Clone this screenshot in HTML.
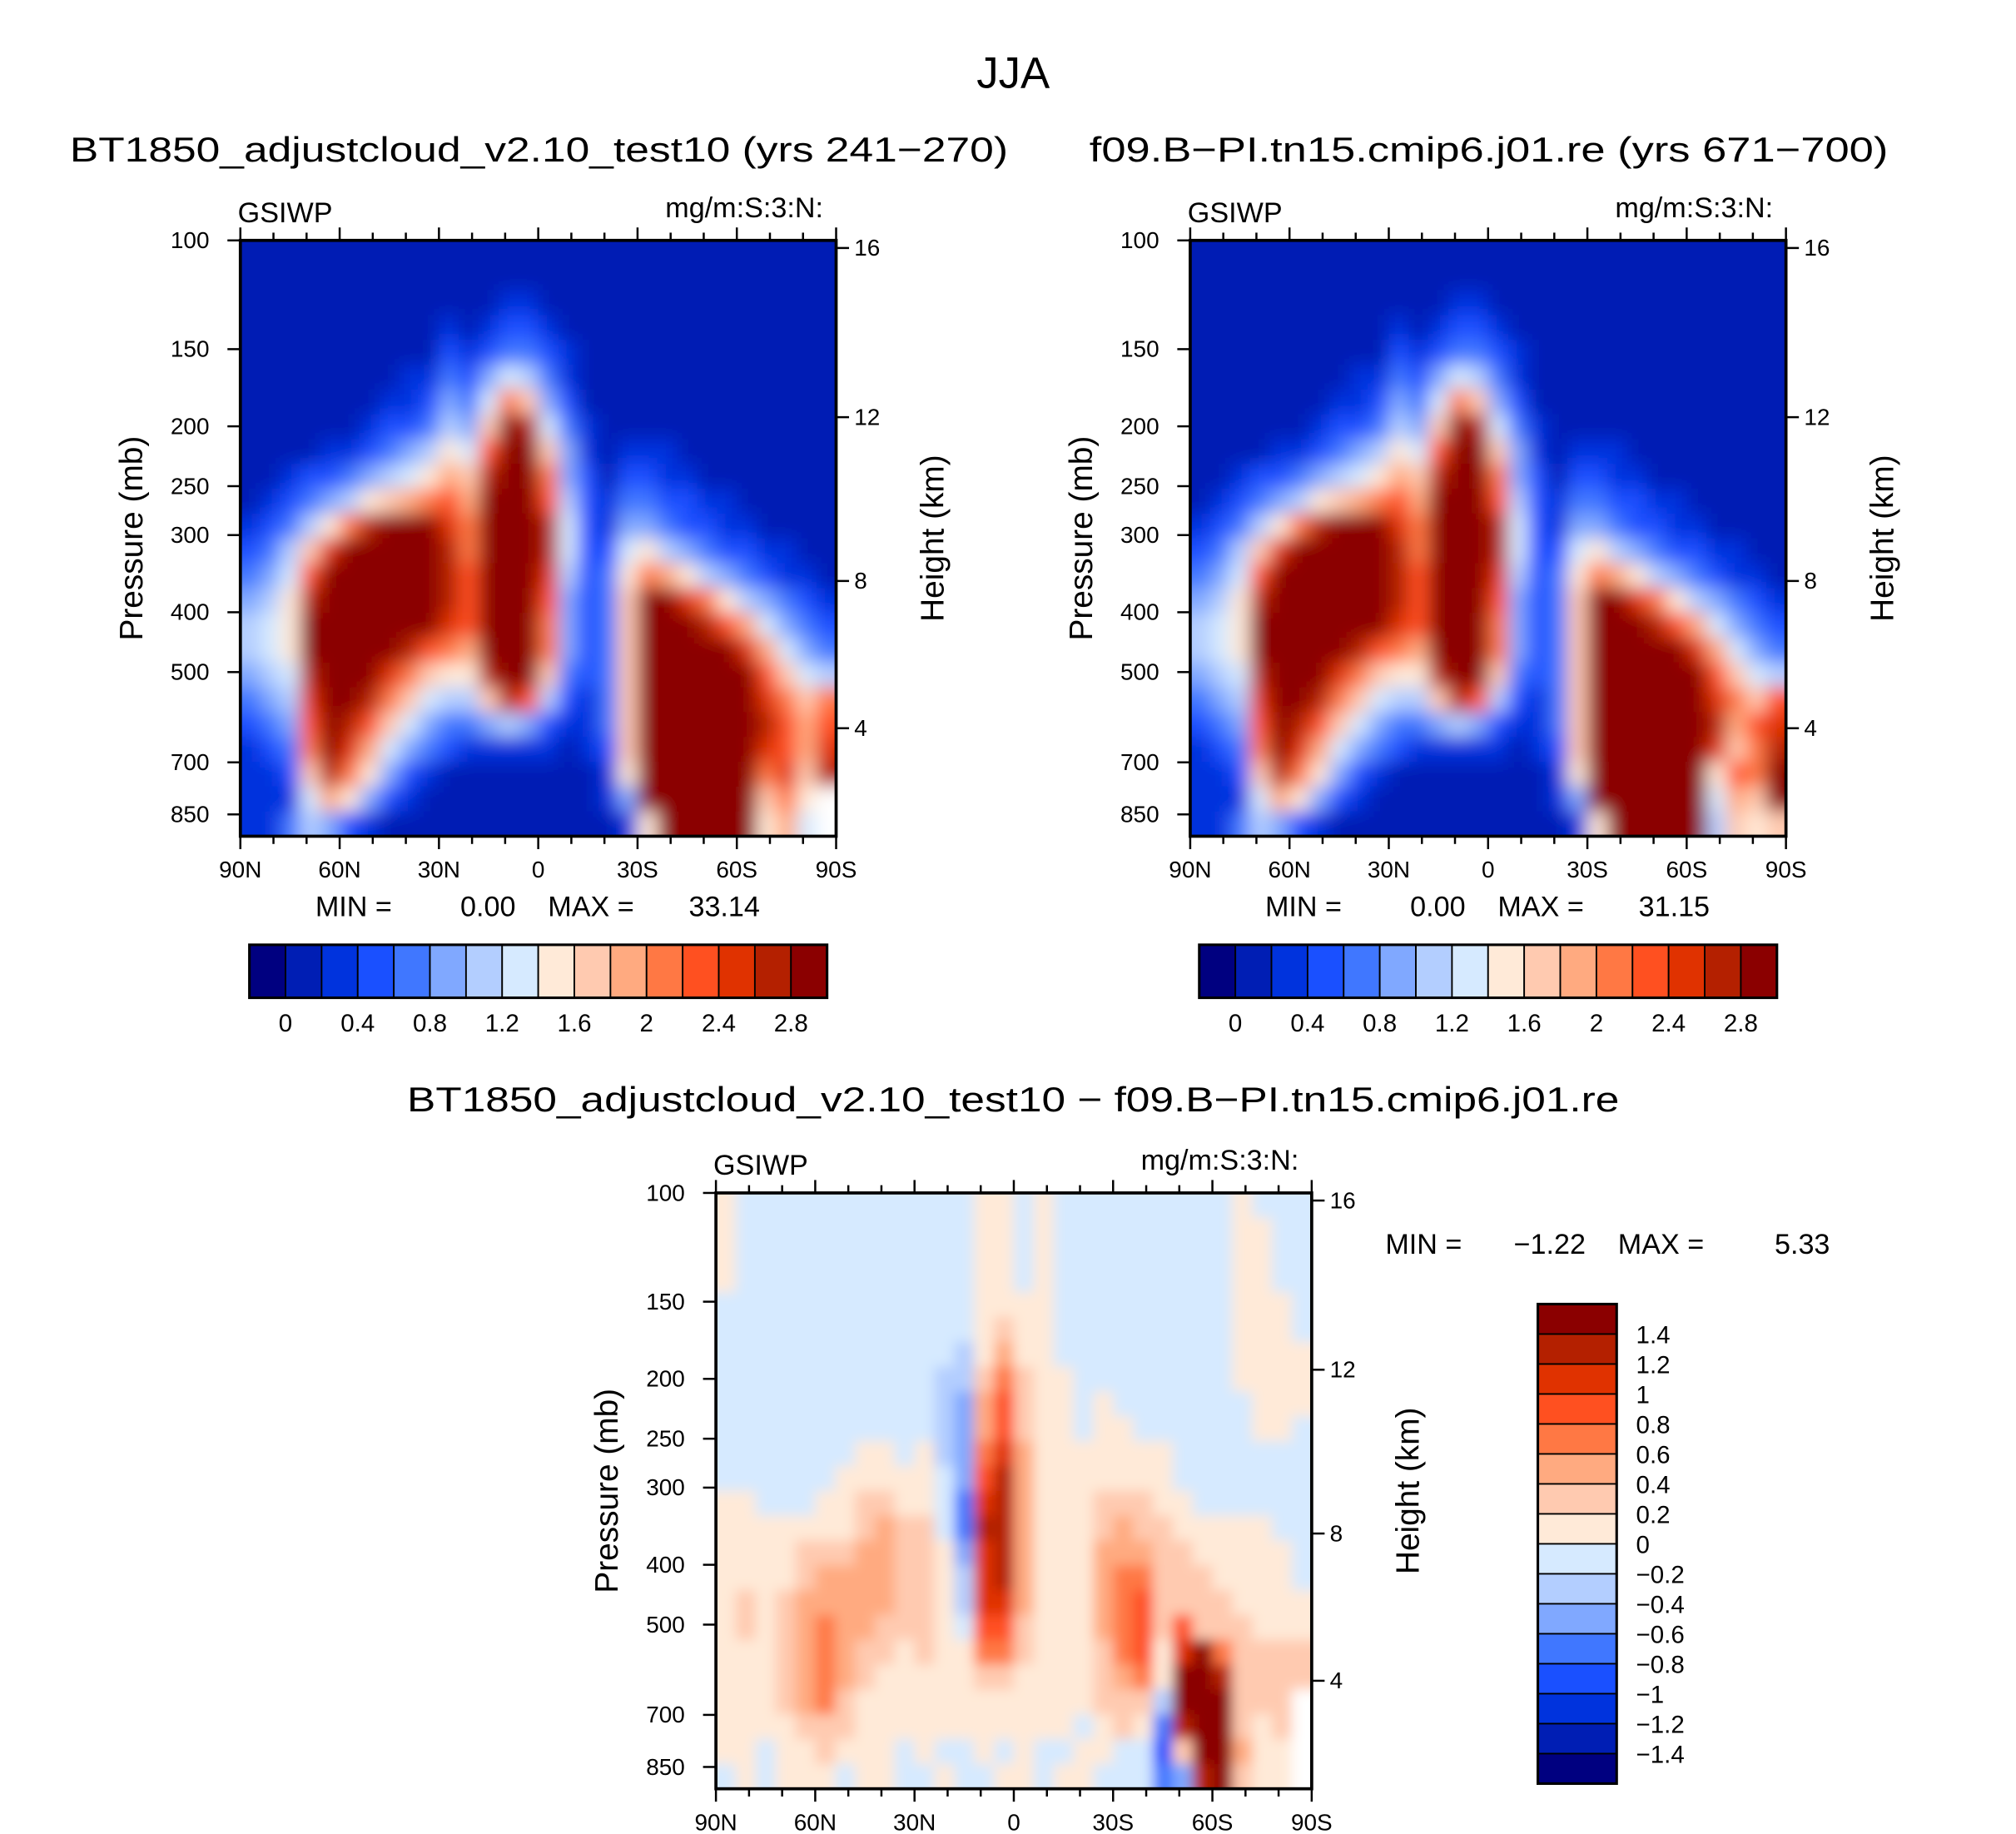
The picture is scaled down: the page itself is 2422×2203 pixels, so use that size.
<!DOCTYPE html>
<html><head><meta charset="utf-8">
<style>
html,body{margin:0;padding:0;background:#fff;}
svg{display:block;}
text{font-family:"Liberation Sans",sans-serif;fill:#000;}
</style></head>
<body>
<svg id="fig" width="2422" height="2203" viewBox="0 0 1560 1419" preserveAspectRatio="none" xmlns="http://www.w3.org/2000/svg">
<defs>
<filter id="blurA" x="0" y="0" width="1" height="1"><feGaussianBlur stdDeviation="7"/></filter>
<filter id="blurC" x="0" y="0" width="1" height="1"><feGaussianBlur stdDeviation="5"/></filter>
<clipPath id="clipA"><rect x="186" y="186" width="461" height="461"/></clipPath>
<clipPath id="clipB"><rect x="921" y="186" width="461" height="461"/></clipPath>
<clipPath id="clipC"><rect x="554" y="923" width="461" height="461"/></clipPath>
</defs>
<text x="784" y="68" font-size="34" text-anchor="middle">JJA</text>
<text x="54" y="125" font-size="27" textLength="726" lengthAdjust="spacingAndGlyphs">BT1850_adjustcloud_v2.10_test10 (yrs 241−270)</text>
<text x="843" y="125" font-size="27" textLength="618" lengthAdjust="spacingAndGlyphs">f09.B−PI.tn15.cmip6.j01.re (yrs 671−700)</text>
<text x="315" y="860" font-size="27" textLength="938" lengthAdjust="spacingAndGlyphs">BT1850_adjustcloud_v2.10_test10 − f09.B−PI.tn15.cmip6.j01.re</text>
</svg>
<script>
const fieldA = [
"111111111111111111111111111111",
"111111111111111111111111111111",
"111111111111122111111111111111",
"111111111121233211111111111111",
"111111111132344321111111111111",
"111111112243576421111111111111",
"1111111223547b9531111111111111",
"1111112334659fe742111111111111",
"111122345687cff952122211111111",
"1123345678a9effb53133221111111",
"12345689abcafffc63244332211111",
"23468befffdbfffe73255433221111",
"3469dfffffebfffe73378654332211",
"457cffffffecfffd6348ba86543221",
"568effffffecfffc5349ffdb865432",
"678fffffffdcfffb5349fffeca7543",
"678fffffecbafffb5349fffffda754",
"567efffdb988eff94349ffffffc976",
"456dffeb97669ec63249ffffffdb9b",
"345cfec9754456532249ffffffecac",
"234bfda7543222221239ffffffdcad",
"2239eb85321111111128ffffffbd9e",
"2227a853211111111125ffffff9b8w",
"224653211111111111128fffff8a7w"
];
const fieldB = [
"111111111111111111111111111111",
"111111111111111111111111111111",
"111111111111122111111111111111",
"111111111121233211111111111111",
"111111111132344321111111111111",
"111111112243576421111111111111",
"1111111223547b9531111111111111",
"1111112334659fe742111111111111",
"111122345687cff952122211111111",
"1123345678a9effb53133221111111",
"12345689abcafffc63244332211111",
"23468befffdbfffe73255433221111",
"3469dfffffebfffe73378654332211",
"457cffffffecfffd6348ba86543221",
"568effffffecfffc5349ffdb865432",
"678fffffffdcfffb5349fffeca7543",
"678fffffecbafffb5349fffffda754",
"567efffdb988eff94349ffffffc976",
"456dffeb97669ec63249ffffffdb9c",
"345cfec9754456532249ffffffeacd",
"234bfda7543222221239ffffffd9be",
"2239eb85321111111128ffffff8cbf",
"2227a853211111111125ffffff7a9f",
"224653211111111111128fffff6989"
];
const fieldC = [
"877777777777788787777777778777",
"877777777777788787777777778877",
"877777777777788787777777778877",
"877777777777788787777777778877",
"777777777777788887777777778887",
"777777777777789887777777778887",
"77777777777768a887777777778888",
"77777777777669b988777777778888",
"7777777777765ac988787777777888",
"7777777777765ac988788777777887",
"7777777887865bda88888887777777",
"7777778888875cea88888887777777",
"8877788998874dea88899988777777",
"88888889a9974eea8889a998888877",
"8888999aa9985dea888aaa99888887",
"88889aaaa9986dea888abb99988887",
"8989aaaaa9986dda888abc99998888",
"8989abaa99987cc9888abc9c999888",
"8889aba998988bb98889bc8dfb9999",
"8889aba9888889988889ab8ffe9999",
"8889ab98888888888889996fff999w",
"88889998888888888878984eff989w",
"887889888787787877887739ffa88w",
"787888788778778878877745ef988w"
];
const presTicks = [100, 150, 200, 250, 300, 400, 500, 700, 850];
const heightTicks = [4, 8, 12, 16];
const latTicks = ['90N', '60N', '30N', '0', '30S', '60S', '90S'];
const cbLabelsH = ['0', '0.4', '0.8', '1.2', '1.6', '2', '2.4', '2.8'];
const cbLabelsV = ['1.4', '1.2', '1', '0.8', '0.6', '0.4', '0.2', '0', '−0.2', '−0.4', '−0.6', '−0.8', '−1', '−1.2', '−1.4'];
const minMaxA = ['0.00', '33.14'];
const minMaxB = ['0.00', '31.15'];
const minMaxC = ['−1.22', '5.33'];
const palette = ['#000080', '#001eb4', '#0033dd', '#1a50ff', '#4077ff', '#80a8ff', '#b3ceff', '#d6eaff', '#ffead8', '#ffcab0', '#ffaa80', '#ff7844', '#ff5020', '#e03200', '#b42000', '#8b0000'];

const NS = 'http://www.w3.org/2000/svg';
const svg = document.getElementById('fig');
const S = 461;
const NCOL = 30;
function mk(tag, attrs, parent) {
  const e = document.createElementNS(NS, tag);
  for (const k in attrs) e.setAttribute(k, attrs[k]);
  (parent || svg).appendChild(e);
  return e;
}
function yOfP(p, y0) { return y0 + S * Math.log(p / 100) / Math.log(9.22); }
function pOfZ(z) {
  const m = z * 1000;
  if (m <= 11000) return 1013.25 * Math.pow(1 - 2.25577e-5 * m, 5.25588);
  return 226.32 * Math.exp(-(m - 11000) / 6341.6);
}
function colorOf(ch) {
  if (ch === 'w') return '#ffffff';
  const v = parseInt(ch, 16);
  return isNaN(v) ? palette[1] : palette[v];
}
function normRow(s) {
  s = s.replace(/\s/g, '');
  while (s.length < NCOL) s += s[s.length - 1];
  return s.slice(0, NCOL);
}

function drawField(field, x0, y0, clipId, filterId) {
  const g = mk('g', {'clip-path': 'url(#' + clipId + ')'});
  
  
  const inner = mk('g', {filter: 'url(#' + filterId + ')'}, g);
  const rows = field.length, cols = NCOL;
  const cw = S / cols, ch = S / rows;
  mk('rect', {x: x0 - 16, y: y0 - 16, width: S + 32, height: S + 32, fill: colorOf(normRow(field[0])[0])}, inner);
  for (let r = 0; r < rows; r++) {
    const row = normRow(field[r]);
    for (let c = 0; c < cols; c++) {
      let x = x0 + c * cw, y = y0 + r * ch, w = cw + 0.6, h = ch + 0.6;
      if (c === 0) { x -= 16; w += 16; }
      if (c === cols - 1) w += 16;
      if (r === 0) { y -= 16; h += 16; }
      if (r === rows - 1) h += 16;
      const cell = mk('rect', {x: x, y: y, width: w, height: h, fill: colorOf(row[c])}, inner);
      
      
    }
  }
}

function drawAxes(x0, y0, prefix) {
  const g = mk('g', {});
  
  
  for (let i = 0; i <= 18; i++) {
    const x = x0 + S * i / 18;
    const major = i % 3 === 0;
    const L = major ? 10 : 6;
    mk('line', {x1: x, y1: y0 + S, x2: x, y2: y0 + S + L, stroke: '#000', 'stroke-width': 1.6}, g);
    mk('line', {x1: x, y1: y0, x2: x, y2: y0 - L, stroke: '#000', 'stroke-width': 1.6}, g);
  }
  latTicks.forEach((lab, i) => {
    const t = mk('text', {x: x0 + S * i / 6, y: y0 + S + 32, 'font-size': 18, 'text-anchor': 'middle'}, g);
    
    
    t.textContent = lab;
  });
  presTicks.forEach(p => {
    const y = yOfP(p, y0);
    mk('line', {x1: x0 - 10, y1: y, x2: x0, y2: y, stroke: '#000', 'stroke-width': 1.6}, g);
    const t = mk('text', {x: x0 - 24, y: y + 6, 'font-size': 18, 'text-anchor': 'end'}, g);
    
    
    t.textContent = p;
  });
  heightTicks.forEach(z => {
    const y = yOfP(pOfZ(z), y0);
    mk('line', {x1: x0 + S, y1: y, x2: x0 + S + 10, y2: y, stroke: '#000', 'stroke-width': 1.6}, g);
    const t = mk('text', {x: x0 + S + 14, y: y + 6, 'font-size': 18}, g);
    
    
    t.textContent = z;
  });
  mk('rect', {x: x0, y: y0, width: S, height: S, fill: 'none', stroke: '#000', 'stroke-width': 2.4}, g);
  const t1 = mk('text', {x: x0 - 2, y: y0 - 14, 'font-size': 22}, g);
  
  
  t1.textContent = 'GSIWP';
  const t2 = mk('text', {x: x0 + S - 10, y: y0 - 18, 'font-size': 22, 'text-anchor': 'end'}, g);
  
  
  t2.textContent = 'mg/m:S:3:N:';
  const cy = y0 + S / 2;
  const ty = mk('text', {x: 0, y: 0, 'font-size': 25, 'text-anchor': 'middle', transform: 'translate(' + (x0 - 76) + ',' + cy + ') rotate(-90)'}, g);
  
  
  ty.textContent = 'Pressure (mb)';
  const tr = mk('text', {x: 0, y: 0, 'font-size': 25, 'text-anchor': 'middle', transform: 'translate(' + (x0 + S + 83) + ',' + cy + ') rotate(-90)'}, g);
  
  
  tr.textContent = 'Height (km)';
}

function drawMinMax(x, y, vals) {
  const parts = [['MIN =', x, 'start'], [vals[0], x + 155, 'end'], ['MAX =', x + 180, 'start'], [vals[1], x + 344, 'end']];
  parts.forEach(p => {
    const t = mk('text', {x: p[1], y: y, 'font-size': 22, 'text-anchor': p[2]});
    
    
    t.textContent = p[0];
  });
}

function drawHBar(x0, y0) {
  const g = mk('g', {});
  
  
  const w = 447 / 16;
  palette.forEach((col, i) => {
    const b = mk('rect', {x: x0 + i * w, y: y0, width: w, height: 41, fill: col, stroke: '#000', 'stroke-width': 1.2}, g);
    
    
  });
  mk('rect', {x: x0, y: y0, width: 447, height: 41, fill: 'none', stroke: '#000', 'stroke-width': 2}, g);
  cbLabelsH.forEach((lab, k) => {
    const t = mk('text', {x: x0 + w * (1 + 2 * k), y: y0 + 67, 'font-size': 19, 'text-anchor': 'middle'}, g);
    
    
    t.textContent = lab;
  });
}

function drawVBar(x0, y0) {
  const g = mk('g', {});
  
  
  const h = 371 / 16;
  for (let k = 0; k < 16; k++) {
    const b = mk('rect', {x: x0, y: y0 + k * h, width: 61, height: h, fill: palette[15 - k], stroke: '#000', 'stroke-width': 1.2}, g);
    
    
  }
  mk('rect', {x: x0, y: y0, width: 61, height: 371, fill: 'none', stroke: '#000', 'stroke-width': 2}, g);
  cbLabelsV.forEach((lab, k) => {
    const t = mk('text', {x: x0 + 76, y: y0 + h * (k + 1) + 7, 'font-size': 19}, g);
    
    
    t.textContent = lab;
  });
}

drawField(fieldA, 186, 186, 'clipA', 'blurA');
drawField(fieldB, 921, 186, 'clipB', 'blurA');
drawField(fieldC, 554, 923, 'clipC', 'blurC');
drawAxes(186, 186, 'left-panel');
drawAxes(921, 186, 'right-panel');
drawAxes(554, 923, 'difference-panel');
drawMinMax(244, 709, minMaxA);
drawMinMax(979, 709, minMaxB);
drawMinMax(1072, 970, minMaxC);
drawHBar(193, 731);
drawHBar(928, 731);
drawVBar(1190, 1009);
</script>
</body></html>
